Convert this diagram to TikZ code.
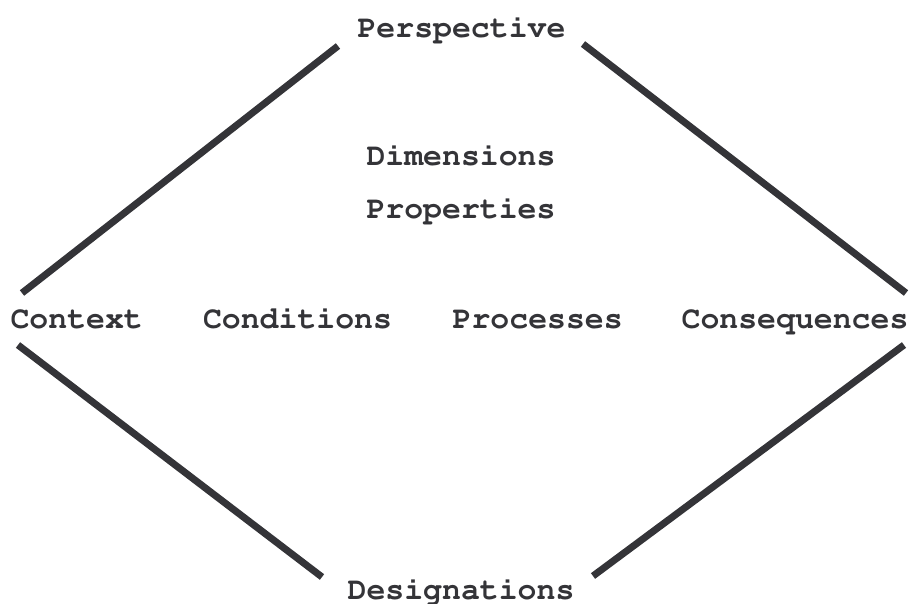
\documentclass[tikz,border=0pt]{standalone}
\usepackage[T1]{fontenc}
\usepackage{courier}
\definecolor{ink}{RGB}{52,52,56}
\begin{document}
\begin{tikzpicture}[x=1pt,y=-1pt,
  lbl/.style={anchor=base,inner sep=0pt,text=ink,font=\ttfamily\bfseries\fontsize{31.5}{36}\selectfont},
  edge/.style={draw=ink,line width=7pt,line cap=butt}]
\useasboundingbox (0,0) rectangle (913,603);
\node[lbl] (persp) at (461.5,37) {Perspective};
\node[lbl] (dim) at (461,165) {Dimensions};
\node[lbl] (prop) at (461,218) {Properties};
\node[lbl] (ctx) at (76.7,328) {Context};
\node[lbl] (cond) at (297.5,328) {Conditions};
\node[lbl] (proc) at (537.7,328) {Processes};
\node[lbl] (cons) at (795,328) {Consequences};
\node[lbl] (desig) at (461,599) {Designations};
\coordinate (tl1) at (22,293);
\coordinate (tl2) at (338,46);
\coordinate (tr1) at (583,44);
\coordinate (tr2) at (906,293);
\coordinate (bl1) at (18,345);
\coordinate (bl2) at (322,577);
\coordinate (br1) at (593,576);
\coordinate (br2) at (904,345);
\draw[edge] (tl1) -- (tl2);
\draw[edge] (tr1) -- (tr2);
\draw[edge] (bl1) -- (bl2);
\draw[edge] (br1) -- (br2);
\end{tikzpicture}
\end{document}
